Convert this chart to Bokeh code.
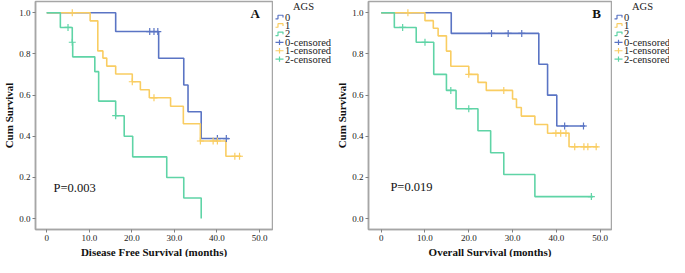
from bokeh.plotting import figure
from bokeh.layouts import row
from bokeh.models import Range1d, FixedTicker, PrintfTickFormatter, Title
from bokeh.core.properties import value
from bokeh.embed import file_html
from bokeh.resources import INLINE

FONT = "Liberation Serif"
groups = ["0", "1", "2"]
colors = ["#5a74c4", "#f9cd62", "#5fd4a6"]
legend_labels = ["0", "1", "2", "0-censored", "1-censored", "2-censored"]
y_ticks = [0.0, 0.2, 0.4, 0.6, 0.8, 1.0]
x_ticks = [0, 10, 20, 30, 40, 50]

# ---- Panel A: Disease free survival (step points: time, survival) ----
dfs_t0 = [0, 16.2, 26.3, 32.2, 33.2, 36.3, 42.8]
dfs_s0 = [1.0, 0.909, 0.779, 0.649, 0.519, 0.389, 0.389]
dfs_c0_t = [24.2, 25.2, 26.1, 40.1, 42.2]
dfs_c0_s = [0.909, 0.909, 0.909, 0.389, 0.389]
dfs_t1 = [0, 10.2, 12.0, 13.2, 14.1, 16.2, 20.1, 22.0, 24.1, 29.1, 32.1, 36.1, 42.1, 45.7]
dfs_s1 = [1.0, 0.961, 0.815, 0.780, 0.741, 0.703, 0.665, 0.626, 0.587, 0.546, 0.461, 0.377, 0.303, 0.303]
dfs_c1_t = [6.0, 20.1, 25.2, 36.1, 39.1, 40.1, 44.2, 45.3]
dfs_c1_s = [1.0, 0.665, 0.587, 0.377, 0.377, 0.377, 0.303, 0.303]
dfs_t2 = [0, 3.2, 6.0, 6.1, 11.3, 12.2, 16.2, 18.2, 20.2, 28.2, 32.2, 36.3]
dfs_s2 = [1.0, 0.929, 0.857, 0.786, 0.714, 0.571, 0.500, 0.400, 0.300, 0.200, 0.100, 0.0]
dfs_c2_t = [5.0, 6.0, 16.2]
dfs_c2_s = [0.929, 0.857, 0.500]

# ---- Panel B: Overall survival ----
os_t0 = [0, 16.0, 36.0, 38.0, 40.1, 46.6]
os_s0 = [1.0, 0.90, 0.75, 0.60, 0.45, 0.45]
os_c0_t = [25.2, 29.0, 32.1, 41.9, 46.2]
os_c0_s = [0.90, 0.90, 0.90, 0.45, 0.45]
os_t1 = [0, 10.0, 11.9, 13.0, 14.9, 15.9, 20.0, 22.1, 24.0, 30.0, 30.9, 32.0, 35.1, 38.0, 42.9, 49.5]
os_s1 = [1.0, 0.962, 0.925, 0.888, 0.814, 0.740, 0.701, 0.662, 0.623, 0.581, 0.540, 0.498, 0.457, 0.415, 0.349, 0.349]
os_c1_t = [6.1, 20.0, 28.0, 39.9, 41.0, 42.2, 44.2, 46.3, 47.2, 49.1]
os_c1_s = [1.0, 0.701, 0.623, 0.415, 0.415, 0.415, 0.349, 0.349, 0.349, 0.349]
os_t2 = [0, 3.0, 8.0, 12.0, 14.9, 17.1, 22.1, 25.0, 28.0, 35.1, 48.4]
os_s2 = [1.0, 0.929, 0.857, 0.701, 0.623, 0.534, 0.427, 0.320, 0.214, 0.107, 0.107]
os_c2_t = [4.9, 10.0, 15.9, 20.0, 48.0]
os_c2_s = [0.929, 0.857, 0.623, 0.534, 0.107]

H = 257


def make_panel(width, xr, xlabel, curves, censors, letter, letter_x, pval, p_x, p_y):
    p = figure(width=width, height=H, x_range=Range1d(*xr), y_range=Range1d(-0.053, 1.055),
               toolbar_location=None, output_backend="svg",
               min_border_left=0, min_border_right=1, min_border_top=1, min_border_bottom=0)
    p.grid.visible = False
    p.outline_line_color = "#a6a6a6"
    p.outline_line_width = 1.5
    p.background_fill_color = "white"
    p.border_fill_color = "white"
    for ax in (p.xaxis[0], p.yaxis[0]):
        ax.axis_line_color = "#a6a6a6"
        ax.axis_line_width = 1.5
        ax.major_tick_line_color = "#808080"
        ax.major_tick_out = 3
        ax.major_tick_in = 0
        ax.minor_tick_line_color = None
        ax.major_label_text_font = FONT
        ax.major_label_text_font_size = "9px"
        ax.major_label_text_color = "#222222"
        ax.axis_label_text_font = FONT
        ax.axis_label_text_font_size = "11px"
        ax.axis_label_text_font_style = "bold"
        ax.axis_label_text_color = "#111111"
    p.xaxis.major_label_standoff = 2
    p.yaxis.major_label_standoff = 2
    p.yaxis.axis_label_standoff = 1
    p.xaxis.ticker = FixedTicker(ticks=x_ticks)
    p.xaxis.formatter = PrintfTickFormatter(format="%.1f")
    p.xaxis.major_label_overrides = {0: "0"}
    p.yaxis.ticker = FixedTicker(ticks=y_ticks)
    p.yaxis.formatter = PrintfTickFormatter(format="%.1f")
    p.yaxis.axis_label = "Cum Survival"
    p.add_layout(Title(text=xlabel, align="center", text_font=FONT, text_font_size="11px",
                       text_font_style="bold", text_color="#111111", standoff=0, offset=0,
                       text_line_height=0.7), "below")

    for (t, s), c in zip(curves, colors):
        p.step(x=t, y=s, mode="after", line_color=c, line_width=1.6)
    for (t, s), c in zip(censors, colors):
        p.scatter(x=t, y=s, marker="cross", size=7, line_color=c, line_width=1.2)

    p.text(x=[letter_x], y=[0.995], text=[letter], text_font=value(FONT), text_font_size="13px",
           text_font_style="bold", text_baseline="middle", text_align="left", text_color="#111111")
    p.text(x=[p_x], y=[p_y], text=[pval], text_font=value(FONT), text_font_size="12.5px",
           text_baseline="middle", text_align="left", text_color="#111111")
    return p


def make_legend(width):
    L = figure(width=width, height=H, x_range=Range1d(0, width), y_range=Range1d(H, 0),
               toolbar_location=None, output_backend="svg", x_axis_location=None, y_axis_location=None,
               min_border=0, outline_line_color=None)
    L.grid.visible = False
    L.text(x=[30], y=[5.5], text=["AGS"], text_align="center", text_baseline="middle",
           text_font=value(FONT), text_font_size="10.5px", text_color="#222222")
    row_y = [17.5, 27.0, 36.5, 46.0, 55.5, 65.0]
    for i, c in enumerate(colors):
        y = row_y[i]
        L.line(x=[2, 4.5, 4.5, 9.5, 9.5], y=[y + 2, y + 2, y - 2, y - 2, y + 0.5], line_color=c, line_width=1.2)
        y2 = row_y[i + 3]
        L.line(x=[2, 10], y=[y2, y2], line_color=c, line_width=1.2)
        L.line(x=[6, 6], y=[y2 - 3, y2 + 3], line_color=c, line_width=1.2)
    L.text(x=[11.5] * 6, y=row_y, text=legend_labels, text_align="left", text_baseline="middle",
           text_font=value(FONT), text_font_size="10.5px", text_color="#222222")
    return L


pA = make_panel(273, (-2.64, 53.05), "Disease Free Survival (months)",
                [(dfs_t0, dfs_s0), (dfs_t1, dfs_s1), (dfs_t2, dfs_s2)],
                [(dfs_c0_t, dfs_c0_s), (dfs_c1_t, dfs_c1_s), (dfs_c2_t, dfs_c2_s)],
                "A", 47.9, "P=0.003", 1.6, 0.15)
pB = make_panel(279, (-2.9, 52.6), "Overall Survival (months)",
                [(os_t0, os_s0), (os_t1, os_s1), (os_t2, os_s2)],
                [(os_c0_t, os_c0_s), (os_c1_t, os_c1_s), (os_c2_t, os_c2_s)],
                "B", 48.2, "P=0.019", 2.1, 0.155)
legA = make_legend(60)
legB = make_legend(57)

layout = row(pA, legA, pB, legB)
open("out.html", "w").write(file_html(layout, INLINE))
